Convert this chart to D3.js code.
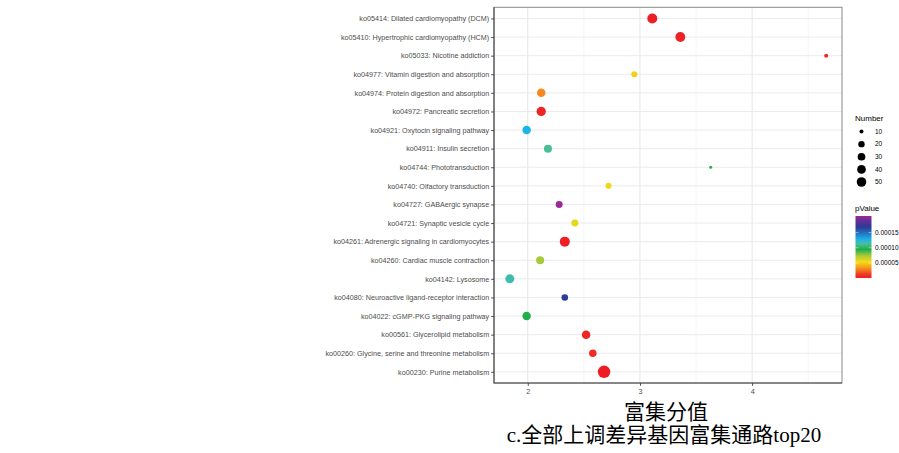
<!DOCTYPE html>
<html>
<head>
<meta charset="utf-8">
<script src="https://cdn.jsdelivr.net/npm/d3@7/dist/d3.min.js"></script>
<style>
  html, body { margin: 0; padding: 0; background: #fff; }
  svg { display: block; }
</style>
</head>
<body>
<svg id="chart" width="899" height="453"></svg>
<script>
// KEGG pathway enrichment, top 20 pathways (bottom of list drawn at bottom)
const pathways = [
  "ko05414: Dilated cardiomyopathy (DCM)",
  "ko05410: Hypertrophic cardiomyopathy (HCM)",
  "ko05033: Nicotine addiction",
  "ko04977: Vitamin digestion and absorption",
  "ko04974: Protein digestion and absorption",
  "ko04972: Pancreatic secretion",
  "ko04921: Oxytocin signaling pathway",
  "ko04911: Insulin secretion",
  "ko04744: Phototransduction",
  "ko04740: Olfactory transduction",
  "ko04727: GABAergic synapse",
  "ko04721: Synaptic vesicle cycle",
  "ko04261: Adrenergic signaling in cardiomyocytes",
  "ko04260: Cardiac muscle contraction",
  "ko04142: Lysosome",
  "ko04080: Neuroactive ligand-receptor interaction",
  "ko04022: cGMP-PKG signaling pathway",
  "ko00561: Glycerolipid metabolism",
  "ko00260: Glycine, serine and threonine metabolism",
  "ko00230: Purine metabolism"
];
const richFactor = [3.11, 3.36, 4.66, 2.95, 2.12, 2.12, 1.99, 2.18, 3.63, 2.72,
                    2.28, 2.42, 2.33, 2.11, 1.84, 2.33, 1.99, 2.52, 2.58, 2.68];
const geneNumber = [56, 54, 10, 18, 38, 47, 38, 33, 9, 18,
                    24, 24, 56, 33, 43, 21, 38, 38, 28, 95];
const pValue = [2e-6, 3e-6, 6e-6, 5.0e-5, 3.1e-5, 4e-6, 1.27e-4, 1.11e-4, 9.6e-5, 5.6e-5,
                2.04e-4, 5.8e-5, 2e-6, 7.4e-5, 1.17e-4, 1.67e-4, 9.4e-5, 5e-6, 7e-6, 1e-6];

const xTicks = [2, 3, 4];
const xMinor = [2.5, 3.5, 4.5];
const sizeBreaks = [10, 20, 30, 40, 50];
const pBreaks = [0.00005, 0.00010, 0.00015];
const pBreakLabels = ["0.00005", "0.00010", "0.00015"];
const xTitle = "富集分值";
const caption = "c.全部上调差异基因富集通路top20";

// rainbow palette, low p (red) to high p (purple)
const paletteStops = [0, 0.06, 0.15, 0.26, 0.36, 0.46, 0.55, 0.62, 0.72, 0.82, 0.92, 1];
const paletteColors = ["#ee1d24", "#ef3a23", "#f38b20", "#f5dc14", "#a7ca3a", "#1daf4a",
                       "#4dbe9a", "#1cb4e8", "#2575c0", "#2b3b97", "#632f98", "#9a2a96"];

const data = pathways.map((name, i) => ({
  name, x: richFactor[i], n: geneNumber[i], p: pValue[i]
}));

const svg = d3.select("#chart");
const panel = { left: 494, right: 842, top: 7.3, bottom: 383 };
const font = "'Liberation Sans', Arial, Helvetica, sans-serif";

// x scale with 5% expansion on each side
const xExt = d3.extent(richFactor);
const xPad = (xExt[1] - xExt[0]) * 0.05;
const x = d3.scaleLinear()
  .domain([xExt[0] - xPad, xExt[1] + xPad])
  .range([panel.left, panel.right]);

const y = d3.scalePoint()
  .domain(pathways)
  .range([panel.top, panel.bottom])
  .padding(0.6);

// point size: diameter grows with the square root of the rescaled count
const nExt = d3.extent(geneNumber);
const nNorm = d3.scaleLinear().domain(nExt).range([0, 1]).clamp(true);
const diam = d3.scaleLinear().domain([0, 1]).range([3, 12.5]);
const radius = v => diam(Math.sqrt(nNorm(v))) / 2;

const pExt = d3.extent(pValue);
const pNorm = d3.scaleLinear().domain(pExt).range([0, 1]);
const palette = d3.scaleLinear().domain(paletteStops).range(paletteColors)
  .interpolate(d3.interpolateRgb);
const colour = p => palette(pNorm(p));

// panel background and grid
svg.append("rect")
  .attr("x", panel.left).attr("y", panel.top)
  .attr("width", panel.right - panel.left).attr("height", panel.bottom - panel.top)
  .attr("fill", "#fff");

const grid = svg.append("g");
grid.selectAll("line.minor").data(xMinor).join("line")
  .attr("x1", d => x(d)).attr("x2", d => x(d))
  .attr("y1", panel.top).attr("y2", panel.bottom)
  .attr("stroke", "#f0f0f0").attr("stroke-width", 0.6);
grid.selectAll("line.majorx").data(xTicks).join("line")
  .attr("x1", d => x(d)).attr("x2", d => x(d))
  .attr("y1", panel.top).attr("y2", panel.bottom)
  .attr("stroke", "#e6e6e6").attr("stroke-width", 1);
grid.selectAll("line.majory").data(pathways).join("line")
  .attr("x1", panel.left).attr("x2", panel.right)
  .attr("y1", d => y(d)).attr("y2", d => y(d))
  .attr("stroke", "#ebebeb").attr("stroke-width", 1);

// points
svg.append("g").selectAll("circle").data(data).join("circle")
  .attr("cx", d => x(d.x))
  .attr("cy", d => y(d.name))
  .attr("r", d => radius(d.n))
  .attr("fill", d => colour(d.p));

// panel border
svg.append("rect")
  .attr("x", panel.left).attr("y", panel.top)
  .attr("width", panel.right - panel.left).attr("height", panel.bottom - panel.top)
  .attr("fill", "none").attr("stroke", "#8a8a8a").attr("stroke-width", 1);
svg.append("path")
  .attr("d", `M${panel.left},${panel.top}V${panel.bottom}H${panel.right}`)
  .attr("fill", "none").attr("stroke", "#4a4a4a").attr("stroke-width", 1.1);

// axes
const xAxis = d3.axisBottom(x).tickValues(xTicks).tickFormat(d3.format("d"))
  .tickSize(2.8).tickPadding(3);
const gx = svg.append("g").attr("transform", `translate(0,${panel.bottom})`).call(xAxis);
gx.select(".domain").remove();
gx.selectAll("line").attr("stroke", "#4a4a4a");
gx.selectAll("text").attr("fill", "#4d4d4d").style("font-family", font).style("font-size", "7.2px");

const yAxis = d3.axisLeft(y).tickSize(2.8).tickPadding(2);
const gy = svg.append("g").attr("transform", `translate(${panel.left},0)`).call(yAxis);
gy.select(".domain").remove();
gy.selectAll("line").attr("stroke", "#4a4a4a");
gy.selectAll("text").attr("fill", "#4d4d4d").style("font-family", font).style("font-size", "7.2px");

// size legend
const sizeLegend = svg.append("g");
sizeLegend.append("text")
  .attr("x", 855).attr("y", 120.5)
  .style("font-family", font).style("font-size", "8px").attr("fill", "#000")
  .text("Number");
const sizeRow = d3.scalePoint().domain(sizeBreaks).range([131.5, 182]);
sizeLegend.selectAll("circle").data(sizeBreaks).join("circle")
  .attr("cx", 861.5).attr("cy", d => sizeRow(d)).attr("r", d => radius(d))
  .attr("fill", "#000");
sizeLegend.selectAll("text.lab").data(sizeBreaks).join("text")
  .attr("class", "lab")
  .attr("x", 875).attr("y", d => sizeRow(d)).attr("dy", "0.35em")
  .style("font-family", font).style("font-size", "6.5px").attr("fill", "#000")
  .text(d => d);

// colour bar legend
const bar = { x: 855.5, w: 16, top: 216, bottom: 278 };
const barY = d3.scaleLinear().domain(pExt).range([bar.bottom, bar.top]);
const defs = svg.append("defs");
const grad = defs.append("linearGradient").attr("id", "pgrad")
  .attr("x1", 0).attr("y1", 1).attr("x2", 0).attr("y2", 0);
grad.selectAll("stop").data(d3.range(0, 1.0001, 0.02)).join("stop")
  .attr("offset", d => d)
  .attr("stop-color", d => palette(d));
const colLegend = svg.append("g");
colLegend.append("text")
  .attr("x", 855).attr("y", 210.5)
  .style("font-family", font).style("font-size", "8px").attr("fill", "#000")
  .text("pValue");
colLegend.append("rect")
  .attr("x", bar.x).attr("y", bar.top)
  .attr("width", bar.w).attr("height", bar.bottom - bar.top)
  .attr("fill", "url(#pgrad)");
colLegend.selectAll("line.tl").data(pBreaks).join("line")
  .attr("x1", bar.x).attr("x2", bar.x + 3)
  .attr("y1", d => barY(d)).attr("y2", d => barY(d))
  .attr("stroke", "#fff").attr("stroke-opacity", 0.7).attr("stroke-width", 0.6);
colLegend.selectAll("line.tr").data(pBreaks).join("line")
  .attr("x1", bar.x + bar.w - 3).attr("x2", bar.x + bar.w)
  .attr("y1", d => barY(d)).attr("y2", d => barY(d))
  .attr("stroke", "#fff").attr("stroke-opacity", 0.7).attr("stroke-width", 0.6);
colLegend.selectAll("text.lab").data(pBreaks).join("text")
  .attr("class", "lab")
  .attr("x", 875).attr("y", d => barY(d)).attr("dy", "0.35em")
  .style("font-family", font).style("font-size", "6.5px").attr("fill", "#000")
  .text((d, i) => pBreakLabels[i]);

// x title and caption
const serif = "'Liberation Serif', 'Times New Roman', 'Noto Sans CJK SC', serif";
svg.append("text")
  .attr("x", 666).attr("y", 419)
  .attr("text-anchor", "middle")
  .style("font-family", serif).style("font-size", "21px").attr("fill", "#000")
  .text(xTitle);
svg.append("text")
  .attr("x", 664).attr("y", 442)
  .attr("text-anchor", "middle")
  .style("font-family", serif).style("font-size", "21px").attr("fill", "#000")
  .text(caption);
</script>
</body>
</html>
